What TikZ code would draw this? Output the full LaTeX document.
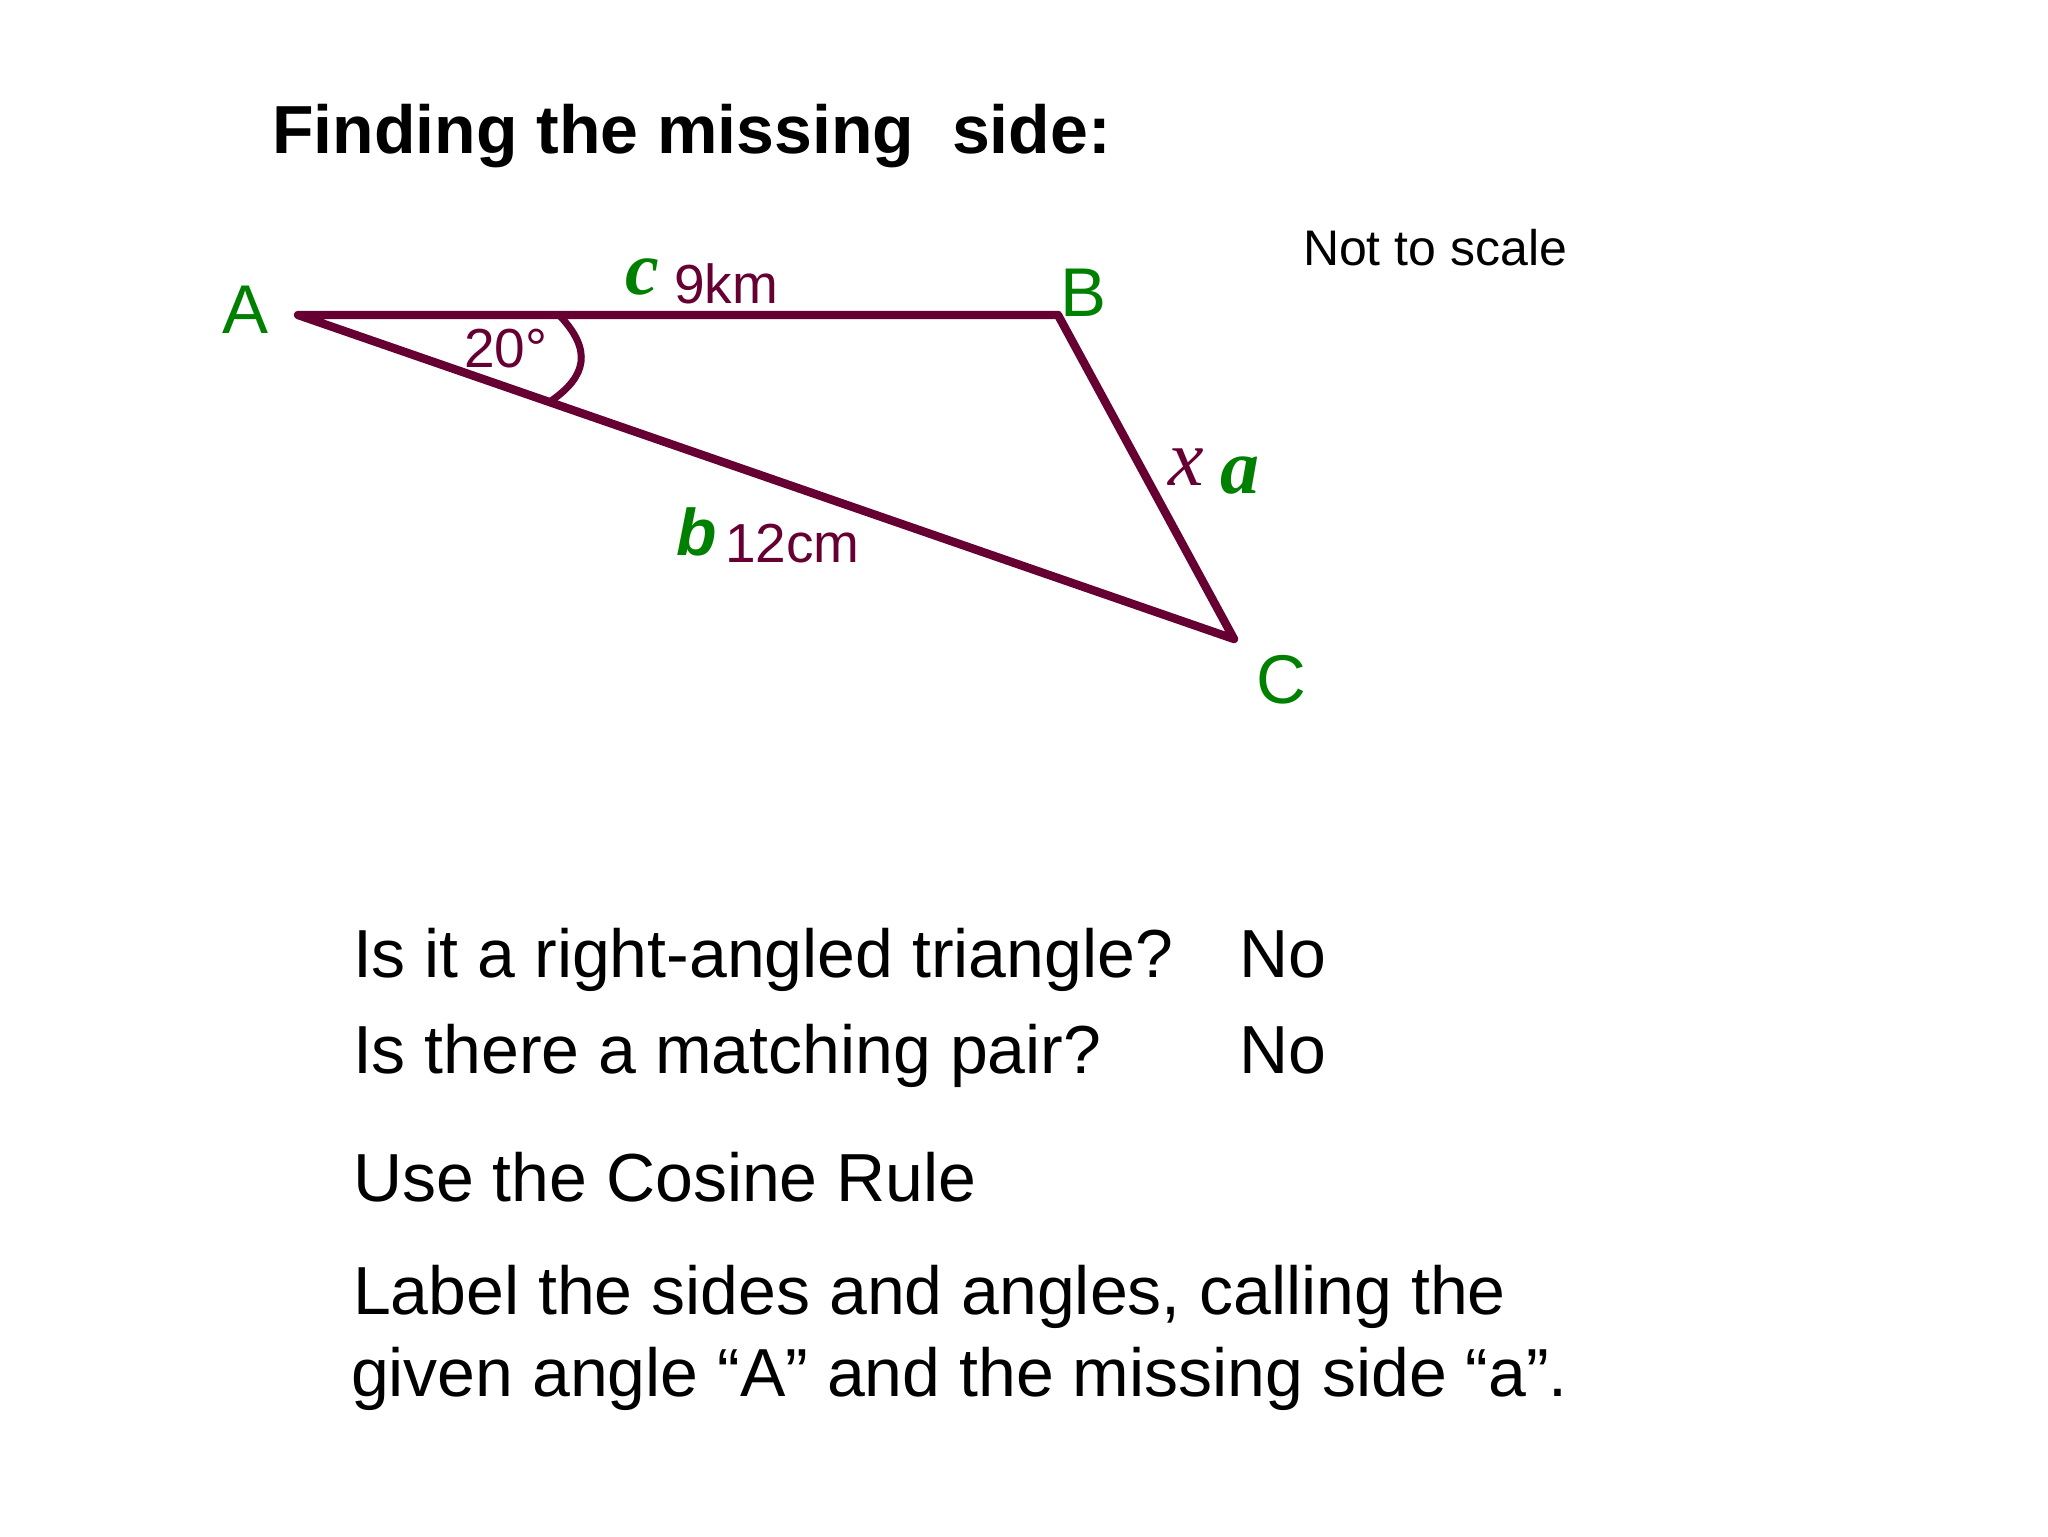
\documentclass[tikz,border=0pt]{standalone}
\usepackage{fontspec}
\setmainfont{Liberation Sans}
\newfontfamily\serifx{Liberation Serif}
\definecolor{maroon}{RGB}{102,0,51}
\definecolor{lgreen}{RGB}{0,128,0}
\begin{document}
\begin{tikzpicture}[x=0.5pt,y=-0.5pt,
  txt/.style={anchor=base west,inner sep=0pt,outer sep=0pt},
  body/.style={txt,font=\fontsize{34}{40}\selectfont},
  vlabel/.style={txt,text=lgreen,font=\fontsize{34.5}{40}\selectfont},
  side/.style={txt,text=maroon,font=\fontsize{27.5}{32}\selectfont},
  edge/.style={draw=maroon,line width=4.2pt,line join=round,line cap=round}]
\useasboundingbox[fill=white] (0,0) rectangle (2048,1536);
% title
\node[txt,font=\fontsize{34}{40}\selectfont\bfseries] (title) at (272,154) {Finding the missing\ \ side:};
\node[txt,font=\fontsize{25}{30}\selectfont] (nts) at (1303,265) {Not to scale};
% triangle
\coordinate (A) at (298,315);
\coordinate (B) at (1058,315);
\coordinate (C) at (1234,639);
\draw[edge] (A) -- (B) -- (C) -- cycle;
\coordinate (arcS) at (560,316);
\coordinate (arcE) at (551,401);
\draw[draw=maroon,line width=3.5pt] (arcS) .. controls (592,350) and (587,376) .. (arcE);
% vertex labels
\node[vlabel] (lA) at (222,333) {A};
\node[vlabel] (lB) at (1060,316) {B};
\node[vlabel] (lC) at (1256,703) {C};
% side labels
\node[txt,text=lgreen,font=\serifx\fontsize{38}{42}\selectfont\bfseries\itshape] (lc) at (625,294) {c};
\node[side] (l9) at (674,303) {9km};
\node[side] (l20) at (464,367) {20°};
\node[txt,text=lgreen,font=\fontsize{33}{38}\selectfont\bfseries\itshape] (lb) at (676,555) {b};
\node[side] (l12) at (725,562) {12cm};
\node[txt,text=maroon,font=\serifx\fontsize{40}{44}\selectfont\itshape] (lx) at (1168,485) {x};
\node[txt,text=lgreen,font=\serifx\fontsize{39}{44}\selectfont\bfseries\itshape] (la) at (1220,493) {a};
% body text
\node[body] (q1) at (353,977) {Is it a right-angled triangle?};
\node[body] (n1) at (1239,977) {No};
\node[body] (q2) at (353,1073) {Is there a matching pair?};
\node[body] (n2) at (1239,1073) {No};
\node[body] (use) at (353,1201) {Use the Cosine Rule};
\node[body] (lab1) at (353,1314) {Label the sides and angles, calling the};
\node[body] (lab2) at (351,1396) {given angle “A” and the missing side “a”.};
\end{tikzpicture}
\end{document}
